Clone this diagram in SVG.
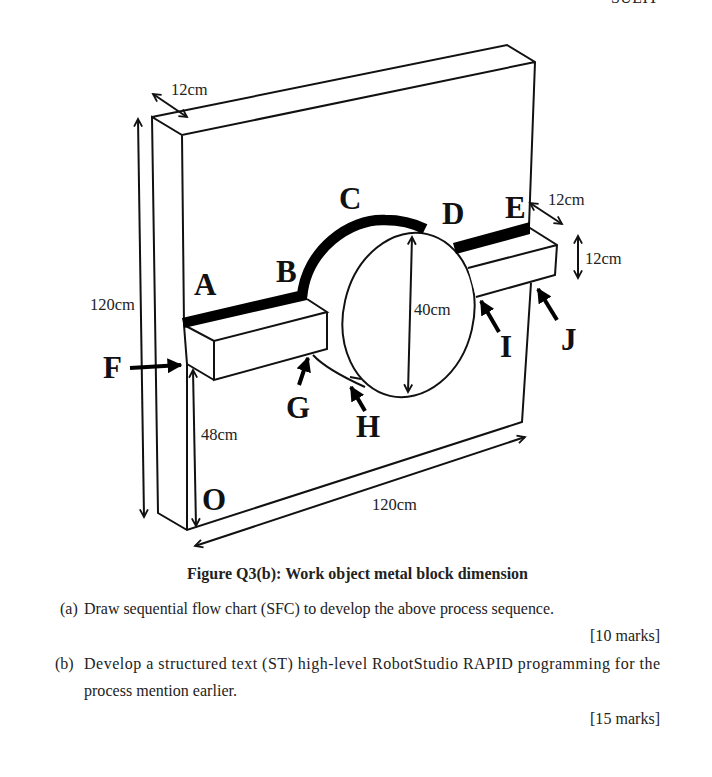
<svg xmlns="http://www.w3.org/2000/svg" width="712" height="777" viewBox="0 0 712 777">
<style>
text{font-family:"Liberation Serif","Times New Roman",serif;fill:#111}
.dim{font-size:16.5px;fill:#222}
.lab{font-size:31px;font-weight:bold}
.body{font-size:16px;fill:#222}
.e{fill:none;stroke:#111;stroke-width:2}
.d{fill:none;stroke:#111;stroke-width:2;marker-start:url(#h);marker-end:url(#h)}
.t{fill:none;stroke:#000;stroke-width:4;marker-end:url(#b)}
</style>
<defs>
<marker id="h" viewBox="0 0 10 10" refX="9.500" refY="5" markerWidth="9" markerHeight="9" markerUnits="userSpaceOnUse" orient="auto-start-reverse" overflow="visible"><path d="M1,0.5L9.500,5L1,9.500" fill="none" stroke="#111" stroke-width="2"/></marker>
<marker id="b" viewBox="0 0 10 10" refX="9" refY="5" markerWidth="15" markerHeight="15" markerUnits="userSpaceOnUse" orient="auto"><path d="M0,0L10,5L0,10Z" fill="#000"/></marker>
</defs>
<rect width="712" height="777" fill="#fff"/>
<text x="611" y="3" class="body" textLength="47">SULIT</text>
<g id="plate">
<path class="e" d="M152,117L507,45L535,62L529,226M531,283L522,422L187,530L158,513L152,117L182,135L535,62M182,135L184,325M187,364L187,530"/>
</g>
<g id="disc">
<ellipse class="e" cx="408.500" cy="315" rx="65" ry="83" transform="rotate(13 408.500 315)"/>
<path class="e" d="M313,355C325,368 345,378 365,387M350,377L361,379"/>
</g>
<g id="left-arm">
<path d="M184,325L307,299L327,312V349L214,380L187,364Z" fill="#fff" stroke="none"/>
<path class="e" d="M184,325L214,341L327,312L307,299M327,312V349L214,380V341M214,380L187,364L184,325"/>
<path d="M182,318L307,289V300L184,328Z" fill="#000"/>
</g>
<g id="right-arm">
<path d="M457,248L530,228L557,245L555,275L476,297L468,268Z" fill="#fff"/>
<path class="e" d="M457,248L530,228L557,245L555,275L476,297M468,268L557,245"/>
<path d="M453,243L530,222V234L456,254Z" fill="#000"/>
</g>
<g id="thick-edge">
<path d="M302,297C306,250 350,218 385,220C400,220 415,224 425,229" fill="none" stroke="#000" stroke-width="10.500"/>
</g>
<g id="connectors">
<path class="d" d="M153,94L187,117"/>
<path class="d" d="M138,119L144,517"/>
<path class="d" d="M193,370L196,526"/>
<path class="d" d="M195,546L525,437"/>
<path class="d" d="M412,237L408,392"/>
<path class="d" d="M530,203L562,224"/>
<path class="d" d="M578,236V278"/>
<path class="t" d="M130,368L181,365"/>
<path class="t" d="M299,385L308,358"/>
<path class="t" d="M365,411L351,387"/>
<path class="t" d="M499,332L481,301"/>
<path class="t" d="M557,320L538,289"/>
</g>
<g id="labels">
<text class="lab" x="194" y="295">A</text>
<text class="lab" x="276" y="282">B</text>
<text class="lab" x="339" y="209">C</text>
<text class="lab" x="442" y="224">D</text>
<text class="lab" x="505" y="218">E</text>
<text class="lab" x="103" y="378">F</text>
<text class="lab" x="286" y="418">G</text>
<text class="lab" x="356" y="437">H</text>
<text class="lab" x="500" y="357">I</text>
<text class="lab" x="561" y="350">J</text>
<text class="lab" x="202" y="510">O</text>
<text class="dim" x="171" y="95">12cm</text>
<text class="dim" x="90" y="310">120cm</text>
<text class="dim" x="414" y="315">40cm</text>
<text class="dim" x="548" y="205">12cm</text>
<text class="dim" x="585" y="264">12cm</text>
<text class="dim" x="201" y="440">48cm</text>
<text class="dim" x="372" y="510">120cm</text>
</g>
<g id="caption">
<text class="body" x="187" y="579" font-weight="bold" textLength="341">Figure Q3(b): Work object metal block dimension</text>
<text class="body" x="60" y="614">(a)</text>
<text class="body" x="84" y="614" textLength="470">Draw sequential flow chart (SFC) to develop the above process sequence.</text>
<text class="body" x="590" y="641" textLength="70">[10 marks]</text>
<text class="body" x="55" y="669">(b)</text>
<text class="body" x="84" y="669" textLength="576">Develop a structured text (ST) high-level RobotStudio RAPID programming for the</text>
<text class="body" x="84" y="696" textLength="153">process mention earlier.</text>
<text class="body" x="590" y="724" textLength="70">[15 marks]</text>
</g>
</svg>
